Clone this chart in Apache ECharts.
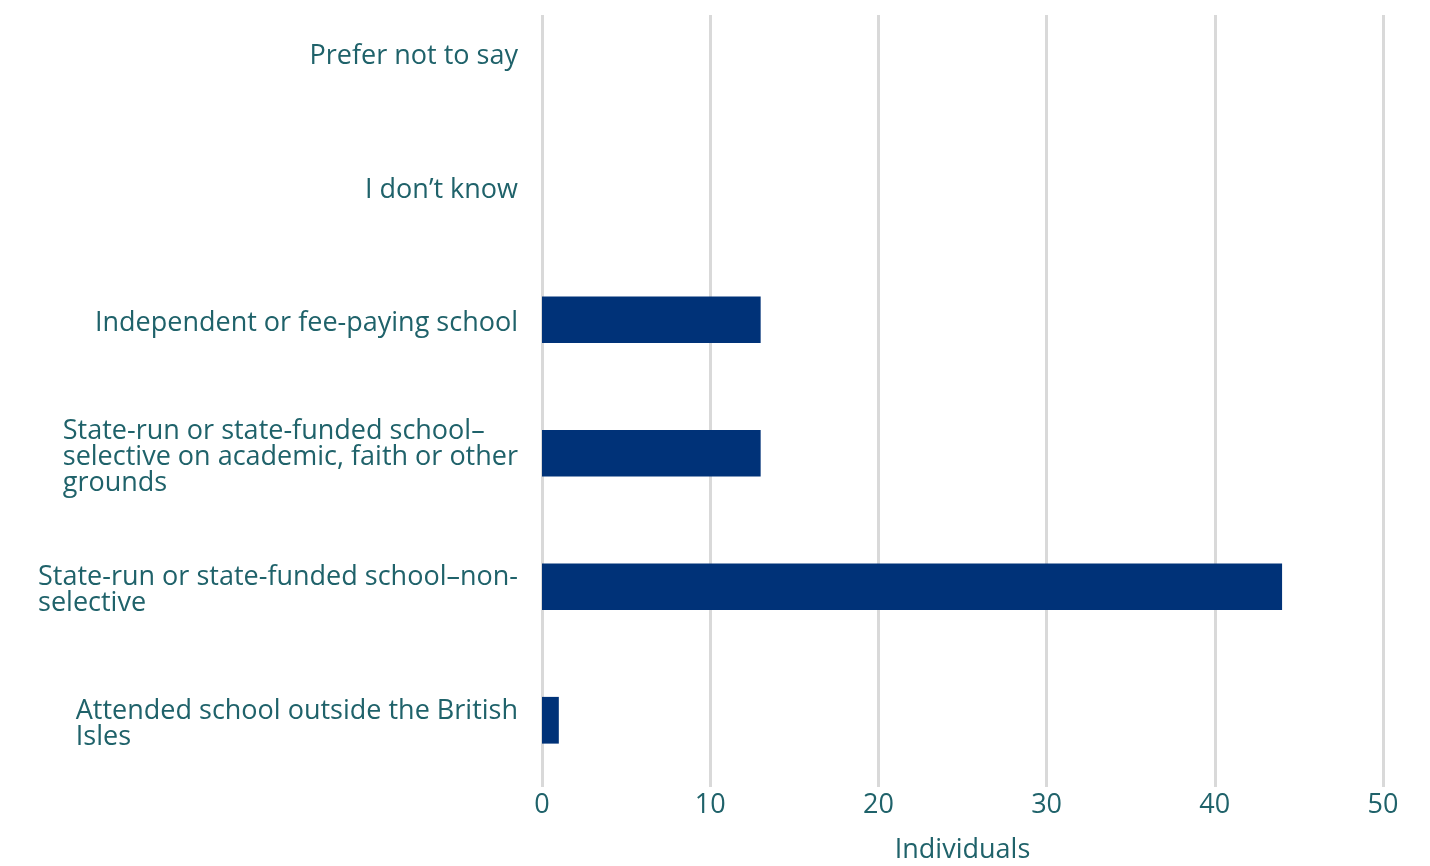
<!DOCTYPE html>
<html>
<head>
<meta charset="utf-8">
<script src="https://cdn.jsdelivr.net/npm/echarts@6/dist/echarts.min.js"></script>
<style>
html,body{margin:0;padding:0;background:#fff;overflow:hidden;width:1430px;height:866px;}
#chart{width:1430px;height:880px;margin-top:-14px;}
</style>
</head>
<body>
<div id="chart"></div>
<script>
const categories = [
  "Attended school outside the British\nIsles",
  "State-run or state-funded school\u2013non-\nselective",
  "State-run or state-funded school\u2013\nselective on academic, faith or other\ngrounds",
  "Independent or fee-paying school",
  "I don\u2019t know",
  "Prefer not to say"
];
const values = [1, 44, 13, 13, 0, 0];
const xTicks = { min: 0, max: 50, interval: 10 };
const axisName = "Individuals";

const textColor = '#1f626a';
const fontFamily = '"Open Sans", Lato, sans-serif';

const chart = echarts.init(document.getElementById('chart'));
chart.setOption({
  animation: false,
  grid: [
    { left: 542, right: 47, top: 29, bottom: 79, outerBoundsMode: 'none', containLabel: false },
    { left: 542, right: 47, top: 0, bottom: 79, outerBoundsMode: 'none', containLabel: false }
  ],
  xAxis: [
    {
      gridIndex: 0, type: 'value', min: xTicks.min, max: xTicks.max, interval: xTicks.interval,
      axisLine: { show: false }, axisTick: { show: false },
      splitLine: { show: true, lineStyle: { color: '#d9d9d9', width: 3 } },
      axisLabel: { color: textColor, fontSize: 27, fontFamily: fontFamily, margin: 5 },
      name: axisName, nameLocation: 'middle', nameGap: 50, nameMoveOverlap: false,
      nameTextStyle: { color: textColor, fontSize: 27, fontFamily: fontFamily }
    },
    {
      gridIndex: 1, type: 'value', min: xTicks.min, max: xTicks.max, interval: xTicks.interval,
      show: false
    }
  ],
  yAxis: [
    { gridIndex: 0, type: 'value', show: false },
    {
      gridIndex: 1, type: 'category', data: categories,
      axisLine: { show: false }, axisTick: { show: false },
      axisLabel: {
        margin: 24,
        padding: [8, 0, 0, 0],
        formatter: function (v) {
          return v.split('\n').map(function (l) { return '{a|' + l + '}'; }).join('\n');
        },
        rich: {
          a: { color: textColor, fontSize: 27, fontFamily: fontFamily, lineHeight: 26, align: 'left' }
        }
      }
    }
  ],
  series: [{
    type: 'bar',
    xAxisIndex: 1, yAxisIndex: 1,
    data: values,
    barWidth: '35%',
    itemStyle: { color: '#003278' }
  }]
});
</script>
</body>
</html>
